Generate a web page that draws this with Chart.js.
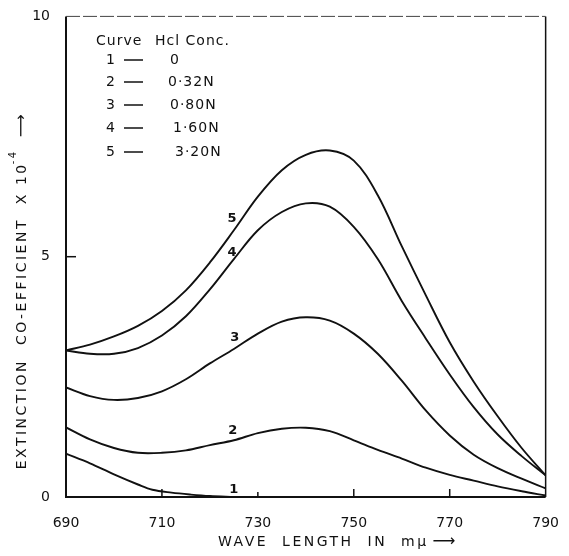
<!DOCTYPE html>
<html>
<head>
<meta charset="utf-8">
<script src="https://cdn.jsdelivr.net/npm/chart.js@4/dist/chart.umd.min.js"></script>
<style>
html,body{margin:0;padding:0;background:#fff;}
#c{display:block;}
</style>
</head>
<body>
<canvas id="c" width="569" height="556"></canvas>
<script>
// ---- data ----
const wavelengths = [690,695,700,705,710,715,720,725,730,735,740,745,750,755,760,765,770,775,780,785,790];
const curve2 = [1.45,1.20,1.02,0.92,0.92,0.97,1.08,1.18,1.33,1.42,1.44,1.37,1.18,0.98,0.80,0.61,0.46,0.34,0.22,0.12,0.03];
const curve3 = [2.28,2.10,2.02,2.06,2.20,2.45,2.78,3.08,3.40,3.65,3.74,3.67,3.40,2.98,2.42,1.80,1.28,0.88,0.60,0.38,0.18];
const curve4 = [3.05,2.98,2.98,3.10,3.36,3.76,4.32,4.95,5.55,5.93,6.11,6.04,5.62,4.95,4.08,3.30,2.55,1.87,1.30,0.85,0.45];
const curve5 = [3.05,3.17,3.34,3.56,3.87,4.30,4.88,5.55,6.25,6.80,7.12,7.21,7.00,6.28,5.22,4.20,3.22,2.40,1.68,1.02,0.45];
const wavelengths1 = [690,695,700,705,708,712,716,720,725];
const curve1 = [0.90,0.70,0.47,0.26,0.15,0.09,0.05,0.02,0.00];

const xTicks = [690,710,730,750,770,790];
const yTicks = [0,5,10];

const legendNumbers = ['1','2','3','4','5'];
const legendConc = ['0','0·32N','0·80N','1·60N','3·20N'];
const curveLabelNames = ['1','2','3','4','5'];
const curveLabelWl = [725.1,724.9,725.3,724.7,724.7];
const curveLabelVal = [0.15,1.39,3.32,5.08,5.79];

const xTitle = 'WAVE  LENGTH  IN  mμ';
const yTitle = 'EXTINCTION  CO-EFFICIENT  X 10';
const ySup = '-4';

function pts(xs, ys){ return xs.map((v,i)=>({x:v,y:ys[i]})); }

const lineStyle = {borderColor:'#111',borderWidth:1.9,pointRadius:0,fill:false,tension:0.35};

const FONT = '"DejaVu Sans", sans-serif';

const deco = {
  id:'deco',
  afterDraw(chart){
    const {ctx, chartArea:a, scales:{x,y}} = chart;
    ctx.save();
    // frame
    ctx.strokeStyle='#111';
    ctx.lineWidth=2;
    ctx.beginPath();
    ctx.moveTo(a.left,a.top); ctx.lineTo(a.left,a.bottom); ctx.lineTo(a.right,a.bottom);
    ctx.stroke();
    ctx.lineWidth=1.5;
    ctx.beginPath(); ctx.moveTo(a.right,a.bottom); ctx.lineTo(a.right,a.top); ctx.stroke();
    ctx.lineWidth=1;
    ctx.strokeStyle='#444';
    ctx.setLineDash([14,3]);
    ctx.beginPath(); ctx.moveTo(a.left,a.top); ctx.lineTo(a.right,a.top); ctx.stroke();
    ctx.setLineDash([]);
    // inner ticks
    ctx.strokeStyle='#111'; ctx.lineWidth=1.5;
    xTicks.slice(1,-1).forEach(v=>{
      const px=x.getPixelForValue(v);
      ctx.beginPath(); ctx.moveTo(px,a.bottom); ctx.lineTo(px,a.bottom-(v===730?5:8)); ctx.stroke();
    });
    const py5=y.getPixelForValue(5);
    ctx.beginPath(); ctx.moveTo(a.left,py5); ctx.lineTo(a.left+10,py5); ctx.stroke();

    ctx.fillStyle='#111';
    ctx.letterSpacing='1px';
    // legend table
    ctx.font='14px '+FONT;
    ctx.textBaseline='middle';
    ctx.textAlign='left';
    ctx.fillText('Curve',96,41);
    ctx.fillText('Hcl Conc.',155,41);
    const rowY=[60,82,105,128,152];
    const concX=[170,168,170,173,175];
    legendNumbers.forEach((n,i)=>{
      ctx.fillText(n,106,rowY[i]);
      ctx.fillText(legendConc[i],concX[i],rowY[i]);
      ctx.beginPath(); ctx.lineWidth=1.5; ctx.moveTo(124,rowY[i]); ctx.lineTo(143,rowY[i]); ctx.stroke();
    });
    // curve labels
    ctx.font='bold 13px '+FONT;
    ctx.textAlign='center';
    curveLabelNames.forEach((n,i)=>{
      ctx.fillText(n,x.getPixelForValue(curveLabelWl[i]),y.getPixelForValue(curveLabelVal[i]));
    });
    // x title
    ctx.font='14px '+FONT;
    ctx.letterSpacing='2.5px';
    ctx.textAlign='left';
    ctx.fillText(xTitle,218,542);
    const xw=ctx.measureText(xTitle).width;
    ctx.letterSpacing='0px';
    ctx.font='16px '+FONT;
    ctx.fillText('⟶',218+xw+4,542);
    // y title
    ctx.save();
    ctx.translate(22,288);
    ctx.rotate(-Math.PI/2);
    ctx.letterSpacing='2.5px';
    ctx.font='14px '+FONT;
    const w1=ctx.measureText(yTitle).width;
    ctx.font='10px '+FONT;
    const w2=ctx.measureText(ySup).width;
    ctx.font='16px '+FONT;
    const w3=ctx.measureText('  ⟶').width;
    const total=w1+w2+w3;
    let sx=-total/2;
    ctx.textAlign='left';
    ctx.font='14px '+FONT;
    ctx.fillText(yTitle,sx,0);
    ctx.font='10px '+FONT;
    ctx.fillText(ySup,sx+w1-2,-9);
    ctx.font='16px '+FONT;
    ctx.letterSpacing='0px';
    ctx.fillText('  ⟶',sx+w1+w2,0);
    ctx.restore();
    ctx.restore();
  }
};

new Chart(document.getElementById('c'),{
  type:'line',
  data:{datasets:[
    {label:'1',data:pts(wavelengths1,curve1),...lineStyle},
    {label:'2',data:pts(wavelengths,curve2),...lineStyle},
    {label:'3',data:pts(wavelengths,curve3),...lineStyle},
    {label:'4',data:pts(wavelengths,curve4),...lineStyle},
    {label:'5',data:pts(wavelengths,curve5),...lineStyle}
  ]},
  options:{
    responsive:false,
    animation:false,
    devicePixelRatio:1,
    layout:{padding:{top:15,right:16,left:0,bottom:0}},
    plugins:{legend:{display:false},tooltip:{enabled:false}},
    scales:{
      x:{type:'linear',min:690,max:790,
        afterBuildTicks:s=>{s.ticks=xTicks.map(v=>({value:v}));},
        ticks:{color:'#111',font:{family:'"DejaVu Sans", sans-serif',size:14},padding:10,maxRotation:0,autoSkip:false},
        grid:{display:false},border:{display:false},
        afterFit:s=>{s.height=59;}},
      y:{type:'linear',min:0,max:10,
        afterBuildTicks:s=>{s.ticks=yTicks.map(v=>({value:v}));},
        ticks:{color:'#111',font:{family:'"DejaVu Sans", sans-serif',size:14},padding:8},
        grid:{display:false},border:{display:false},
        afterFit:s=>{s.width=66;}}
    }
  },
  plugins:[deco]
});
</script>
</body>
</html>
